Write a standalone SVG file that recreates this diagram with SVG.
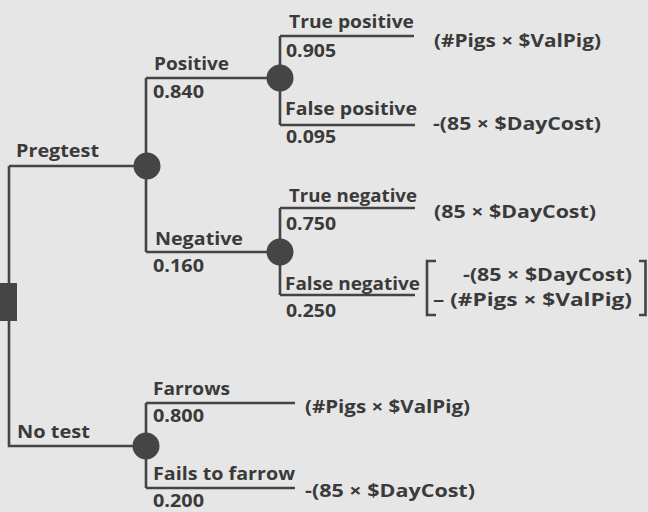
<svg xmlns="http://www.w3.org/2000/svg" width="648" height="512" viewBox="0 0 648 512">
<style>
text{font-family:"Open Sans",Lato,"Liberation Sans",sans-serif;font-weight:bold;font-size:18.5px;fill:#3a3a3a}
.ln{fill:none;stroke:#444;stroke-width:2.6}
.ch{fill:#454545}
</style>
<rect width="648" height="512" fill="#e6e6e6"/>
<g id="connectors">
<path class="ln" d="M9,166 H147 M9,166 V446 H146"/>
<path class="ln" d="M146,78 V252 M146,78 H280 M146,252 H280"/>
<path class="ln" d="M280,36 V125 M280,36 H414 M280,125 H415"/>
<path class="ln" d="M280,208 V295 M280,208 H415 M280,295 H415"/>
<path class="ln" d="M146,403 V488 M146,403 H295 M146,488 H295"/>
</g>
<g id="decision"><rect x="0" y="283" width="17" height="38" fill="#454545"/></g>
<g id="pregtest-node"><circle class="ch" cx="147" cy="166" r="13.5"/></g>
<g id="positive-node"><circle class="ch" cx="280" cy="78" r="13.5"/></g>
<g id="negative-node"><circle class="ch" cx="280" cy="252" r="13.5"/></g>
<g id="notest-node"><circle class="ch" cx="146" cy="446" r="13.5"/></g>
<g id="labels">
<text x="16" y="157" textLength="83" lengthAdjust="spacingAndGlyphs">Pregtest</text>
<text x="154" y="70" textLength="75" lengthAdjust="spacingAndGlyphs">Positive</text>
<text x="153" y="98" textLength="51" lengthAdjust="spacingAndGlyphs">0.840</text>
<text x="155" y="245" textLength="88" lengthAdjust="spacingAndGlyphs">Negative</text>
<text x="153" y="272" textLength="51" lengthAdjust="spacingAndGlyphs">0.160</text>
<text x="289" y="28" textLength="125" lengthAdjust="spacingAndGlyphs">True positive</text>
<text x="286" y="57" textLength="50" lengthAdjust="spacingAndGlyphs">0.905</text>
<text x="285" y="115" textLength="132" lengthAdjust="spacingAndGlyphs">False positive</text>
<text x="286" y="143" textLength="50" lengthAdjust="spacingAndGlyphs">0.095</text>
<text x="289" y="202" textLength="128" lengthAdjust="spacingAndGlyphs">True negative</text>
<text x="286" y="230" textLength="50" lengthAdjust="spacingAndGlyphs">0.750</text>
<text x="285" y="290" textLength="135" lengthAdjust="spacingAndGlyphs">False negative</text>
<text x="286" y="317" textLength="50" lengthAdjust="spacingAndGlyphs">0.250</text>
<text x="17" y="438" textLength="73" lengthAdjust="spacingAndGlyphs">No test</text>
<text x="153" y="395" textLength="77" lengthAdjust="spacingAndGlyphs">Farrows</text>
<text x="153" y="422" textLength="51" lengthAdjust="spacingAndGlyphs">0.800</text>
<text x="153" y="480" textLength="142" lengthAdjust="spacingAndGlyphs">Fails to farrow</text>
<text x="153" y="507" textLength="51" lengthAdjust="spacingAndGlyphs">0.200</text>
</g>
<g id="payoffs">
<text x="434" y="47" textLength="167" lengthAdjust="spacingAndGlyphs">(#Pigs × $ValPig)</text>
<text x="433" y="130" textLength="168" lengthAdjust="spacingAndGlyphs">-(85 × $DayCost)</text>
<text x="434" y="218" textLength="162" lengthAdjust="spacingAndGlyphs">(85 × $DayCost)</text>
<text x="463" y="281" textLength="169" lengthAdjust="spacingAndGlyphs">-(85 × $DayCost)</text>
<text x="433" y="306" textLength="199" lengthAdjust="spacingAndGlyphs">– (#Pigs × $ValPig)</text>
<path class="ln" d="M436,261 H427 V315 H436 M639,261 H645.5 V315 H639" stroke-width="3.5"/>
<text x="305" y="413" textLength="165" lengthAdjust="spacingAndGlyphs">(#Pigs × $ValPig)</text>
<text x="305" y="497" textLength="170" lengthAdjust="spacingAndGlyphs">-(85 × $DayCost)</text>
</g>
</svg>
